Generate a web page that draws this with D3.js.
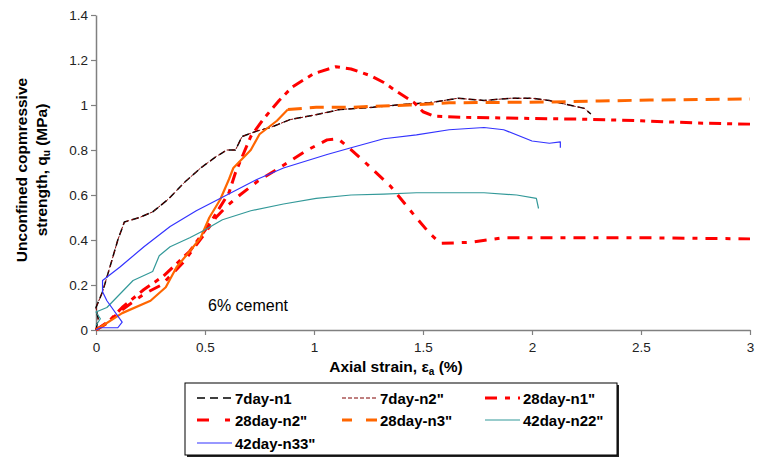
<!DOCTYPE html>
<html><head><meta charset="utf-8">
<script src="https://cdn.jsdelivr.net/npm/d3@7"></script>
<style>body{margin:0;background:#fff}svg{font-family:"Liberation Sans",Arial,sans-serif}</style>
</head><body>
<script>
const xTicks=[0,0.5,1,1.5,2,2.5,3];
const yTicks=[0,0.2,0.4,0.6,0.8,1,1.2,1.4];
const yTickLabels=["0","0.2","0.4","0.6","0.8","1","1.2","1.4"];
const seriesNames=["7day-n1","7day-n2\"","28day-n1\"","28day-n2\"","28day-n3\"","42day-n22\"","42day-n33\""];

const day7n1=[[0,0],[0.01,0.05],[0,0.1],[0.03,0.17],[0.07,0.3],[0.1,0.4],[0.13,0.48],[0.2,0.5],[0.26,0.525],[0.33,0.58],[0.41,0.66],[0.48,0.72],[0.55,0.77],[0.6,0.8],[0.64,0.8],[0.67,0.86],[0.74,0.885],[0.8,0.9],[0.89,0.935],[1.0,0.955],[1.12,0.98],[1.27,0.99],[1.44,1.005],[1.53,1.01],[1.66,1.03],[1.78,1.02],[1.9,1.03],[2.0,1.03],[2.08,1.02],[2.17,1.0],[2.24,0.985],[2.27,0.96]];
const day7n2=[[0,0],[0.01,0.05],[0,0.1],[0.03,0.17],[0.07,0.3],[0.1,0.4],[0.13,0.48],[0.2,0.5],[0.26,0.525],[0.33,0.58],[0.41,0.66],[0.48,0.72],[0.55,0.77],[0.6,0.8],[0.64,0.8],[0.67,0.86],[0.74,0.885],[0.8,0.9],[0.89,0.935],[1.0,0.955],[1.12,0.98],[1.27,0.99],[1.44,1.005],[1.53,1.01],[1.66,1.03],[1.78,1.02],[1.9,1.03],[2.0,1.03],[2.08,1.02],[2.17,1.0],[2.24,0.985],[2.27,0.96]];
const day28n1=[[0,0],[0.05,0.03],[0.12,0.1],[0.22,0.18],[0.31,0.24],[0.43,0.35],[0.52,0.47],[0.61,0.61],[0.64,0.7],[0.71,0.86],[0.77,0.94],[0.84,1.02],[0.9,1.08],[1.0,1.14],[1.1,1.17],[1.17,1.16],[1.26,1.13],[1.32,1.1],[1.38,1.06],[1.46,1.01],[1.5,0.97],[1.55,0.95],[1.7,0.945],[2.0,0.94],[2.23,0.937],[2.5,0.93],[2.75,0.92],[3.0,0.915]];
const day28n2=[[0,0],[0.06,0.04],[0.12,0.09],[0.22,0.16],[0.3,0.2],[0.4,0.3],[0.5,0.43],[0.55,0.5],[0.6,0.55],[0.66,0.6],[0.74,0.66],[0.84,0.72],[0.97,0.8],[1.06,0.845],[1.11,0.85],[1.16,0.81],[1.24,0.74],[1.35,0.64],[1.46,0.51],[1.53,0.43],[1.58,0.385],[1.72,0.39],[1.87,0.41],[2.0,0.41],[2.5,0.41],[3.0,0.405]];
const day28n3=[[0,0],[0.12,0.075],[0.25,0.13],[0.32,0.19],[0.37,0.28],[0.43,0.35],[0.48,0.41],[0.52,0.5],[0.57,0.58],[0.61,0.67],[0.63,0.72],[0.67,0.76],[0.71,0.8],[0.75,0.87],[0.83,0.93],[0.88,0.98],[1.01,0.99],[1.17,0.99],[1.44,1.0],[1.62,1.01],[2.08,1.013],[2.31,1.018],[2.54,1.022],[3.0,1.027]];
const day42n22=[[0,0.02],[0.02,0.05],[0,0.08],[0.05,0.1],[0.12,0.17],[0.17,0.22],[0.26,0.26],[0.29,0.33],[0.34,0.37],[0.43,0.41],[0.49,0.44],[0.58,0.49],[0.71,0.53],[0.86,0.56],[1.01,0.585],[1.17,0.6],[1.32,0.604],[1.47,0.61],[1.62,0.61],[1.78,0.61],[1.93,0.6],[2.02,0.585],[2.03,0.54]];
const day42n33=[[0,0],[0.02,0.01],[0.1,0.01],[0.12,0.035],[0.05,0.13],[0.03,0.17],[0.03,0.22],[0.11,0.28],[0.22,0.37],[0.34,0.46],[0.46,0.53],[0.58,0.59],[0.74,0.67],[0.86,0.72],[1.06,0.78],[1.17,0.81],[1.32,0.85],[1.47,0.867],[1.62,0.89],[1.78,0.9],[1.87,0.89],[2.0,0.84],[2.08,0.83],[2.13,0.836],[2.13,0.81]];

const W=759,H=459;
const svg=d3.select("body").append("svg").attr("width",W).attr("height",H);
const x=d3.scaleLinear().domain([0,3]).range([96,750]);
const y=d3.scaleLinear().domain([0,1.4]).range([330,15]);

const styles=[
 {name:seriesNames[0],data:day7n1,color:"#000",w:1.5,dash:"7,4"},
 {name:seriesNames[1],data:day7n2,color:"#800000",w:1,dash:"3,2"},
 {name:seriesNames[2],data:day28n1,color:"#ff0000",w:3,dash:"12,6,5,6"},
 {name:seriesNames[3],data:day28n2,color:"#ff0000",w:3,dash:"12,8,5,8"},
 {name:seriesNames[4],data:day28n3,color:"#ff6600",w:3,dash:"14,8"},
 {name:seriesNames[5],data:day42n22,color:"#339999",w:1.2,dash:null},
 {name:seriesNames[6],data:day42n33,color:"#3333ff",w:1.2,dash:null}
];

// axes
const yAxis=d3.axisLeft(y).tickValues(yTicks).tickFormat((d,i)=>yTickLabels[i]).tickSize(5).tickSizeOuter(0);
const gy=svg.append("g").attr("transform","translate(96,0)").call(yAxis);
const xAxis=d3.axisBottom(x).tickValues(xTicks).tickFormat(d3.format("")).tickSize(5).tickSizeOuter(0);
const gx=svg.append("g").attr("transform","translate(0,330)").call(xAxis);
[gx,gy].forEach(g=>{g.select(".domain").attr("stroke","#808080").attr("stroke-width",1.5);
 g.selectAll(".tick line").attr("stroke","#808080").attr("stroke-width",1.2);
 g.selectAll(".tick text").attr("font-size",13.5).attr("fill","#222").attr("font-family","Liberation Sans, Arial");});
gy.selectAll(".tick text").attr("x",-8);
gx.selectAll(".tick text").attr("y",12);

const line=d3.line().x(d=>x(d[0])).y(d=>y(d[1]));
const plot=svg.append("g");
styles.forEach((s,i)=>{
 if(i===4){
  const k=15;
  plot.append("path").attr("d",line(s.data.slice(0,k+1))).attr("fill","none").attr("stroke",s.color).attr("stroke-width",2.2).attr("stroke-linejoin","round");
  plot.append("path").attr("d",line(s.data.slice(k))).attr("fill","none").attr("stroke",s.color).attr("stroke-width",s.w).attr("stroke-dasharray",s.dash);
 } else {
  const p=plot.append("path").attr("d",line(s.data)).attr("fill","none").attr("stroke",s.color).attr("stroke-width",s.w).attr("stroke-linejoin","round");
  if(s.dash)p.attr("stroke-dasharray",s.dash);
 }
});

svg.append("text").attr("x",208).attr("y",311).attr("font-size",16).text("6% cement");

// axis titles
const xt=svg.append("text").attr("x",396).attr("y",372).attr("text-anchor","middle").attr("font-size",15.5).attr("font-weight","bold");
xt.append("tspan").text("Axial strain, ε");
xt.append("tspan").attr("font-size",10).attr("dy",3).text("a");
xt.append("tspan").attr("dy",-3).text(" (%)");

const yt=svg.append("g").attr("transform","translate(0,170) rotate(-90)");
yt.append("text").attr("x",0).attr("y",27).attr("text-anchor","middle").attr("font-size",15.5).attr("font-weight","bold").text("Unconfined copmressive");
const yt2=yt.append("text").attr("x",0).attr("y",47).attr("text-anchor","middle").attr("font-size",15.5).attr("font-weight","bold");
yt2.append("tspan").text("strength, q");
yt2.append("tspan").attr("font-size",10).attr("dy",3).text("u");
yt2.append("tspan").attr("dy",-3).text(" (MPa)");

// legend
const lg=svg.append("g");
lg.append("rect").attr("x",187).attr("y",385).attr("width",432).attr("height",72).attr("fill","#222");
lg.append("rect").attr("x",185).attr("y",383).attr("width",432).attr("height",72).attr("fill","#fff").attr("stroke","#000").attr("stroke-width",1);
const cols=[197,342,485], rows=[398,420,443];
const legDash=["8,5","4,2","12,8,5,8","12,16,5,16","10,14,14,0","",""];
styles.forEach((s,i)=>{
 const cx=cols[i%3], cy=rows[Math.floor(i/3)];
 const l=lg.append("line").attr("x1",cx).attr("x2",cx+35).attr("y1",cy).attr("y2",cy).attr("stroke",s.color).attr("stroke-width",s.w);
 if(legDash[i])l.attr("stroke-dasharray",legDash[i]);
 lg.append("text").attr("x",cx+38).attr("y",cy+5.5).attr("font-size",15).attr("font-weight","bold").text(s.name);
});
</script>
</body></html>
